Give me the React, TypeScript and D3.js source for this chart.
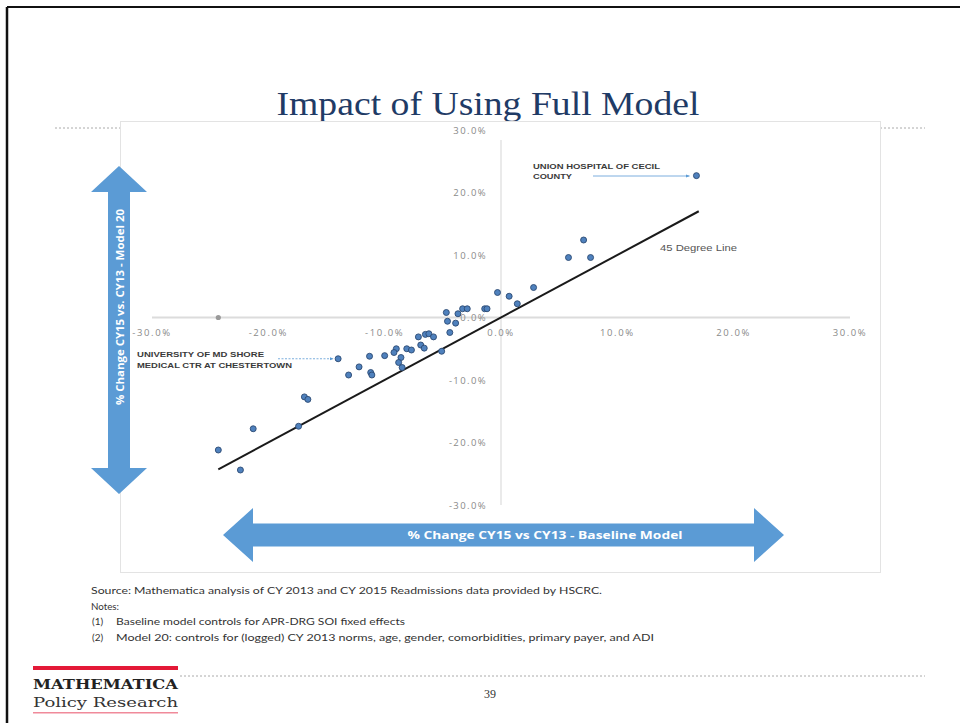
import React from "react";
import * as d3 from "d3";

// ---- Data ----
const baselineChange: number[] = [
  16.8, 7.1, 5.8, 7.7, 2.8, -0.3, 0.7, 1.4, -4.7, -3.7, -3.3, -2.9, -1.4, -1.2,
  -4.6, -3.9, -4.4, -7.1, -6.5, -6.2, -5.8, -6.9, -6.6, -8.1, -7.7, -9.0, -9.2,
  -10.0, -8.6, -8.8, -8.5, -5.1, -11.3, -12.2, -11.2, -11.1, -13.1, -14.0,
  -16.9, -16.6, -21.3, -17.4, -24.3, -22.4,
];
const model20Change: number[] = [
  22.7, 12.4, 9.6, 9.6, 4.8, 4.0, 3.4, 2.2, 0.8, 0.6, 1.4, 1.4, 1.4, 1.4,
  -0.6, -0.9, -2.4, -3.1, -2.7, -2.6, -3.1, -4.4, -4.9, -5.0, -5.2, -5.0, -5.6,
  -6.1, -6.4, -7.2, -8.0, -5.4, -6.2, -7.9, -8.8, -9.2, -9.2, -6.6,
  -12.7, -13.1, -17.8, -17.4, -21.2, -24.4,
];
const greyMarker = { x: -24.3, y: 0 };
const lineExtent: number[] = [-24.3, 17.0];
const tickValues: number[] = [-30, -20, -10, 0, 10, 20, 30];
const tickLabels: string[] = ["-30.0%", "-20.0%", "-10.0%", "0.0%", "10.0%", "20.0%", "30.0%"];
const yTickLabels: string[] = ["-30.0%", "-20.0%", "-10.0%", "0.0%", "10.0%", "20.0%", "30.0%"];

const title = "Impact of Using Full Model";
const yAxisTitle = "% Change CY15 vs. CY13 - Model 20";
const xAxisTitle = "% Change CY15 vs CY13 - Baseline Model";
const sourceNote = "Source: Mathematica analysis of CY 2013 and CY 2015 Readmissions data provided by HSCRC.";
const notesHeader = "Notes:";
const noteMarks: string[] = ["(1)", "(2)"];
const noteTexts: string[] = [
  "Baseline model controls for APR-DRG SOI fixed effects",
  "Model 20: controls for (logged) CY 2013 norms, age, gender, comorbidities, primary payer, and ADI",
];
const noteWidths: number[] = [289, 538];

export default function App() {
  const x = d3.scaleLinear().domain([-30, 30]).range([152, 850]);
  const y = d3.scaleLinear().domain([-30, 30]).range([505, 130]);
  const x0 = x(0);
  const y0 = y(0);
  const blue = "#5b9bd5";
  const tickFont = "'Open Sans', 'Liberation Sans', sans-serif";

  const vArrow = (cx: number, top: number, bot: number, headLen: number, headW: number, shaftW: number) => {
    const p = [
      [cx, top],
      [cx + headW / 2, top + headLen],
      [cx + shaftW / 2, top + headLen],
      [cx + shaftW / 2, bot - headLen],
      [cx + headW / 2, bot - headLen],
      [cx, bot],
      [cx - headW / 2, bot - headLen],
      [cx - shaftW / 2, bot - headLen],
      [cx - shaftW / 2, top + headLen],
      [cx - headW / 2, top + headLen],
    ];
    return p.map((q) => q.join(",")).join(" ");
  };
  const hArrow = (cy: number, left: number, right: number, headLen: number, headW: number, shaftW: number) => {
    const p = [
      [left, cy],
      [left + headLen, cy - headW / 2],
      [left + headLen, cy - shaftW / 2],
      [right - headLen, cy - shaftW / 2],
      [right - headLen, cy - headW / 2],
      [right, cy],
      [right - headLen, cy + headW / 2],
      [right - headLen, cy + shaftW / 2],
      [left + headLen, cy + shaftW / 2],
      [left + headLen, cy + headW / 2],
    ];
    return p.map((q) => q.join(",")).join(" ");
  };

  const points = baselineChange.map((v, i) => ({ x: v, y: model20Change[i] }));
  const unionIdx = 0;
  const umdIdx = 37;

  return (
    <svg
      width={960}
      height={723}
      style={{ position: "absolute", left: 0, top: 0, background: "#fff" }}
    >
      <defs>
        <marker id="ah" viewBox="0 0 10 10" refX="9" refY="5" markerWidth="5" markerHeight="5" orient="auto">
          <path d="M0,1 L10,5 L0,9 z" fill={blue} />
        </marker>
      </defs>
      <rect x={0} y={0} width={960} height={723} fill="#fff" />
      {/* slide frame */}
      <line x1={7} y1={7} x2={960} y2={7} stroke="#111" strokeWidth={2} />
      <line x1={7} y1={7} x2={7} y2={723} stroke="#111" strokeWidth={2.5} />

      {/* header dashed rules */}
      <line x1={55} y1={128} x2={120} y2={128} stroke="#aaa" strokeWidth={1} strokeDasharray="2,2" />
      <line x1={880} y1={128} x2={925} y2={128} stroke="#aaa" strokeWidth={1} strokeDasharray="2,2" />

      {/* title */}
      <text
        x={488}
        y={115}
        textAnchor="middle"
        fontFamily="'Liberation Serif', 'DejaVu Serif', serif"
        fontSize={34}
        fill="#1f3b66"
        textLength={423}
        lengthAdjust="spacingAndGlyphs"
      >
        {title}
      </text>

      {/* chart area border */}
      <rect x={120.5} y={121.5} width={760} height={451} fill="none" stroke="#e3e3e3" strokeWidth={1} />

      {/* axes */}
      <line x1={x(-30)} y1={y0} x2={x(30)} y2={y0} stroke="#dcdcdc" strokeWidth={2} />
      <line x1={x0} y1={y(30) + 10} x2={x0} y2={y(-30)} stroke="#dcdcdc" strokeWidth={1.2} />

      {tickValues.map((t, i) => (
        <text
          key={"xt" + i}
          x={x(t)}
          y={y0 + 18}
          textAnchor="middle"
          fontFamily={tickFont}
          fontSize={9.5}
          letterSpacing={1.6}
          fill="#8a8a8a"
        >
          {tickLabels[i]}
        </text>
      ))}
      {tickValues.map((t, i) => (
        <text
          key={"yt" + i}
          x={x0 - 14}
          y={y(t) + 3.5}
          textAnchor="end"
          fontFamily={tickFont}
          fontSize={9.5}
          letterSpacing={1.4}
          fill="#8a8a8a"
        >
          {yTickLabels[i]}
        </text>
      ))}

      {/* 45 degree line */}
      <line
        x1={x(lineExtent[0])}
        y1={y(lineExtent[0])}
        x2={x(lineExtent[1])}
        y2={y(lineExtent[1])}
        stroke="#1a1a1a"
        strokeWidth={2}
      />
      <text x={660} y={251} fontFamily="'Liberation Sans', sans-serif" fontSize={8.5} fill="#555" textLength={77} lengthAdjust="spacingAndGlyphs">
        45 Degree Line
      </text>

      {/* grey marker on axis */}
      <circle cx={x(greyMarker.x)} cy={y(greyMarker.y)} r={2.6} fill="#9a9a9a" />

      {/* points */}
      {points.map((p, i) => (
        <circle key={i} cx={x(p.x)} cy={y(p.y)} r={3} fill="#4f81bd" stroke="#2b4a73" strokeWidth={0.9} />
      ))}

      {/* annotations */}
      <g fontFamily="'Liberation Sans', sans-serif" fontSize={7.5} fontWeight="bold" fill="#3a3a3a">
        <text x={533} y={169} textLength={127} lengthAdjust="spacingAndGlyphs">UNION HOSPITAL OF CECIL</text>
        <text x={533} y={179} textLength={39} lengthAdjust="spacingAndGlyphs">COUNTY</text>
        <text x={137} y={357} textLength={127} lengthAdjust="spacingAndGlyphs">UNIVERSITY OF MD SHORE</text>
        <text x={137} y={368} textLength={155} lengthAdjust="spacingAndGlyphs">MEDICAL CTR AT CHESTERTOWN</text>
      </g>
      <line
        x1={593}
        y1={176}
        x2={x(points[unionIdx].x) - 7}
        y2={176}
        stroke={blue}
        strokeWidth={0.8}
        markerEnd="url(#ah)"
      />
      <line
        x1={278}
        y1={y(points[umdIdx].y)}
        x2={x(points[umdIdx].x) - 5}
        y2={y(points[umdIdx].y)}
        stroke={blue}
        strokeWidth={0.8}
        strokeDasharray="2,1.5"
        markerEnd="url(#ah)"
      />

      {/* axis arrows */}
      <polygon points={vArrow(119, 166, 494, 26, 56, 22)} fill={blue} />
      <text
        transform={`translate(123.5,307) rotate(-90)`}
        textAnchor="middle"
        fontFamily="'Open Sans', 'Liberation Sans', sans-serif"
        fontSize={10}
        fontWeight="bold"
        fill="#fff"
        textLength={196}
        lengthAdjust="spacingAndGlyphs"
      >
        {yAxisTitle}
      </text>
      <polygon points={hArrow(535, 223, 784, 30, 54, 23)} fill={blue} />
      <text
        x={545}
        y={539}
        textAnchor="middle"
        fontFamily="'Open Sans', 'Liberation Sans', sans-serif"
        fontSize={11}
        fontWeight="bold"
        fill="#fff"
        textLength={275}
        lengthAdjust="spacingAndGlyphs"
      >
        {xAxisTitle}
      </text>

      {/* notes */}
      <g fontFamily="'Lato', 'Liberation Sans', sans-serif" fontSize={10} fill="#333">
        <text x={91} y={594} textLength={511} lengthAdjust="spacingAndGlyphs">{sourceNote}</text>
        <text x={91} y={609.5} textLength={28} lengthAdjust="spacingAndGlyphs">{notesHeader}</text>
        {noteTexts.map((n, i) => (
          <g key={i}>
            <text x={92} y={625 + i * 15.5}>{noteMarks[i]}</text>
            <text x={116} y={625 + i * 15.5} textLength={noteWidths[i]} lengthAdjust="spacingAndGlyphs">
              {n}
            </text>
          </g>
        ))}
      </g>

      {/* footer */}
      <line x1={180} y1={676} x2={925} y2={676} stroke="#aaa" strokeWidth={1} strokeDasharray="2,2" />
      <text x={490} y={698} textAnchor="middle" fontFamily="'Liberation Serif', serif" fontSize={12} fill="#333">
        39
      </text>
      <rect x={33} y={666} width={145} height={4} fill="#e31937" />
      <text x={33} y={689} fontFamily="'DejaVu Serif', serif" fontWeight="bold" fontSize={13.5} fill="#222" textLength={145} lengthAdjust="spacingAndGlyphs">
        MATHEMATICA
      </text>
      <text x={33} y={707} fontFamily="'DejaVu Serif', serif" fontSize={13.5} fill="#333" textLength={145} lengthAdjust="spacingAndGlyphs">
        Policy Research
      </text>
      <rect x={33} y={712} width={145} height={1.5} fill="#f08a9a" />
    </svg>
  );
}
